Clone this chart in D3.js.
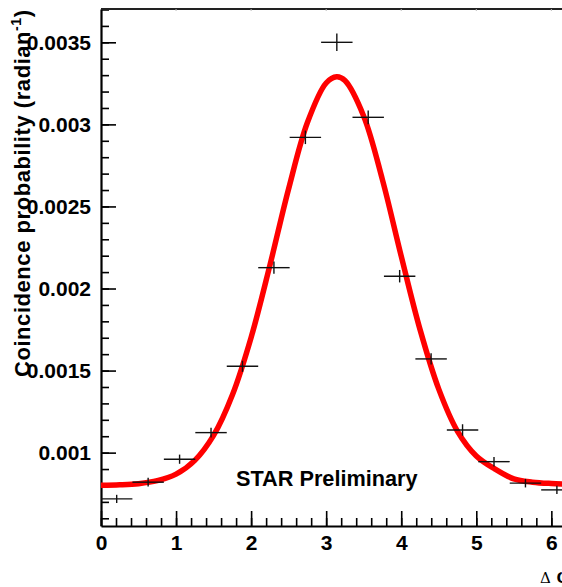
<!DOCTYPE html>
<html>
<head>
<meta charset="utf-8">
<script src="https://cdn.jsdelivr.net/npm/d3@7"></script>
<style>
  body { margin: 0; background: #fff; }
  svg { display: block; font-family: "Liberation Sans", Arial, Helvetica, sans-serif; }
  .tick text { font-weight: bold; font-size: 21px; fill: #000; }
</style>
</head>
<body>
<div id="chart"></div>
<script>
// Δφ bin centres (radian) and measured coincidence probability
const binCenters = [0.209, 0.628, 1.047, 1.466, 1.885, 2.304, 2.723, 3.142, 3.560, 3.979, 4.398, 4.817, 5.236, 5.655, 6.074]
const binHalfWidth = 0.2094
const coincidence = [0.000718, 0.00082, 0.00096, 0.001122, 0.001526, 0.002127, 0.002921, 0.0035, 0.003043, 0.002075, 0.001571, 0.001138, 0.000945, 0.000814, 0.000773]
const coincidenceErr = [0.000025, 0.000027, 0.000028, 0.00003, 0.000034, 0.000037, 0.000041, 0.000053, 0.000042, 0.000038, 0.000034, 0.000035, 0.000029, 0.000026, 0.000025]

// fit curve
const fitPhi = [0, 0.25, 0.5, 0.75, 1.0, 1.25, 1.5, 1.75, 2.0, 2.25, 2.5, 2.75, 3.0, 3.14, 3.25, 3.5, 3.75, 4.0, 4.25, 4.5, 4.75, 5.0, 5.25, 5.5, 5.75, 6.0, 6.28]
const fitProb = [0.000801, 0.000804, 0.000811, 0.000829, 0.000869, 0.000953, 0.001105, 0.001351, 0.001702, 0.002141, 0.002608, 0.003011, 0.003252, 0.00329, 0.003267, 0.00305, 0.002662, 0.002197, 0.001751, 0.001387, 0.00113, 0.00098, 0.0009, 0.00084, 0.00082, 0.000812, 0.000808]

const xTicks = [0, 1, 2, 3, 4, 5, 6]
const yTicks = [0.001, 0.0015, 0.002, 0.0025, 0.003, 0.0035]
const yTickLabels = ["0.001", "0.0015", "0.002", "0.0025", "0.003", "0.0035"]

const width = 562
const height = 587
const frame = { left: 101, right: 572.6, top: 9, bottom: 526 }

const svg = d3.select("#chart").append("svg")
  .attr("width", width)
  .attr("height", height)

const xScale = d3.scaleLinear()
  .domain([0, 6.2832])
  .range([frame.left, frame.right])

const yScale = d3.scaleLinear()
  .domain([0.000553, 0.003703])
  .range([frame.bottom, frame.top])

// minor ticks first so the major axis sits on top
svg.append("g")
  .attr("transform", `translate(${frame.left},0)`)
  .call(d3.axisLeft(yScale)
    .tickValues(d3.range(6, 38).map(i => i / 10000))
    .tickSize(-8)
    .tickFormat(""))
  .call(g => g.select(".domain").remove())
  .call(g => g.selectAll("line").attr("stroke-width", 1.6))

svg.append("g")
  .attr("transform", `translate(${frame.left},0)`)
  .call(d3.axisLeft(yScale)
    .tickValues(yTicks)
    .tickSize(-15)
    .tickSizeOuter(0)
    .tickPadding(10)
    .tickFormat((d, i) => yTickLabels[i]))
  .call(g => g.select(".domain").attr("stroke-width", 2.2))
  .call(g => g.selectAll("line").attr("stroke-width", 1.6))

svg.append("g")
  .attr("transform", `translate(0,${frame.bottom})`)
  .call(d3.axisBottom(xScale)
    .tickValues(d3.range(0, 32).map(i => i / 5))
    .tickSize(-8)
    .tickFormat(""))
  .call(g => g.select(".domain").remove())
  .call(g => g.selectAll("line").attr("stroke-width", 1.6))

svg.append("g")
  .attr("transform", `translate(0,${frame.bottom})`)
  .call(d3.axisBottom(xScale)
    .tickValues(xTicks)
    .tickSize(-15)
    .tickSizeOuter(0)
    .tickPadding(9)
    .tickFormat(d3.format("d")))
  .call(g => g.select(".domain").attr("stroke-width", 2.2))
  .call(g => g.selectAll("line").attr("stroke-width", 1.6))

// top frame line with its tiny tick marks
svg.append("line")
  .attr("x1", frame.left).attr("x2", frame.right)
  .attr("y1", frame.top).attr("y2", frame.top)
  .attr("stroke", "#222").attr("stroke-width", 2.2)

svg.append("g").selectAll("line")
  .data(xTicks.slice(1))
  .join("line")
  .attr("x1", d => xScale(d)).attr("x2", d => xScale(d))
  .attr("y1", frame.top).attr("y2", frame.top + 2)
  .attr("stroke", "#bbb").attr("stroke-width", 1)

// fit curve
const fitLine = d3.line()
  .x((d, i) => xScale(fitPhi[i]))
  .y(d => yScale(d))
  .curve(d3.curveCatmullRom.alpha(0.5))

svg.append("path")
  .datum(fitProb)
  .attr("d", fitLine)
  .attr("fill", "none")
  .attr("stroke", "#ff0000")
  .attr("stroke-width", 5.5)
  .attr("stroke-linejoin", "round")

// data points drawn as error crosses
const points = svg.append("g")
  .attr("stroke", "#111")
  .attr("stroke-width", 1.4)
  .selectAll("g")
  .data(binCenters)
  .join("g")

points.append("line")
  .attr("x1", d => xScale(d - binHalfWidth))
  .attr("x2", d => xScale(d + binHalfWidth))
  .attr("y1", (d, i) => yScale(coincidence[i]))
  .attr("y2", (d, i) => yScale(coincidence[i]))

points.append("line")
  .attr("x1", d => xScale(d))
  .attr("x2", d => xScale(d))
  .attr("y1", (d, i) => yScale(coincidence[i] - coincidenceErr[i]))
  .attr("y2", (d, i) => yScale(coincidence[i] + coincidenceErr[i]))

// labels
svg.append("text")
  .attr("x", 236)
  .attr("y", 486)
  .attr("font-size", 21.7)
  .attr("font-weight", "bold")
  .text("STAR Preliminary")

// the title runs from the top of the frame down to about y = 377
const yTitle = svg.append("text")
  .attr("transform", "translate(30,10) rotate(-90)")
  .attr("text-anchor", "end")
  .attr("font-size", 22)
  .attr("font-weight", "bold")
  .attr("textLength", 367)
  .attr("lengthAdjust", "spacing")
yTitle.append("tspan").text("Coincidence probability (radian")
yTitle.append("tspan").attr("font-size", 14).attr("dy", -9).text("-1")
yTitle.append("tspan").attr("dy", 9).text(")")

const xTitle = svg.append("text")
  .attr("x", 540)
  .attr("y", 583)
xTitle.append("tspan")
  .attr("font-family", "'DejaVu Serif', 'Liberation Serif', serif")
  .attr("font-size", 15)
  .text("Δ")
xTitle.append("tspan")
  .attr("font-size", 20)
  .attr("font-weight", "bold")
  .text(" φ (radian)")
</script>
</body>
</html>
